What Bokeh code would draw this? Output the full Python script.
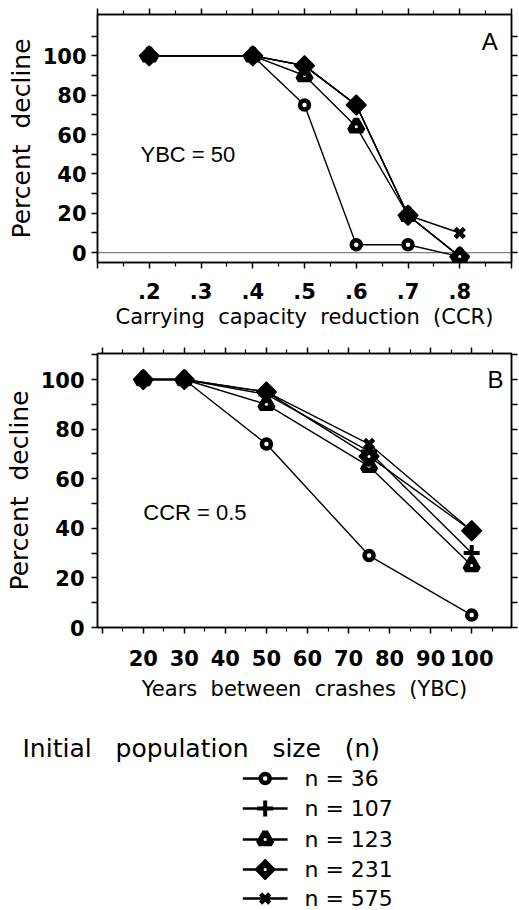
import math
from bokeh.plotting import figure
from bokeh.models import Range1d, LinearAxis, FixedTicker, Span, Label, Title
from bokeh.layouts import column
from bokeh.embed import file_html
from bokeh.resources import INLINE
from bokeh.core.properties import value

FONT = "Liberation Sans"
TFONT = "DejaVu Sans"
GAP = "\u00a0\u00a0 "

# ---------------- data ----------------
series_names = ["n = 36", "n = 107", "n = 123", "n = 231", "n = 575"]
legend_title = "Initial" + GAP + "population" + GAP + "size" + GAP + "(n)"

# Panel A: percent decline vs carrying capacity reduction (YBC = 50)
ccr = [0.2, 0.4, 0.5, 0.6, 0.7, 0.8]
a_n36 = [100, 100, 75, 4, 4, -2]
a_n107 = [100, 100, 95, 75, 19, -2]
a_n123 = [100, 100, 90, 64, 19, -2]
a_n231 = [100, 100, 95, 75, 19, -2]
a_n575 = [100, 100, 95, 75, 19, 10]

# Panel B: percent decline vs years between crashes (CCR = 0.5)
ybc = [20, 30, 50, 75, 100]
b_n36 = [100, 100, 74, 29, 5]
b_n107 = [100, 100, 94, 71, 30]
b_n123 = [100, 100, 90, 65, 25]
b_n231 = [100, 100, 95, 69, 39]
b_n575 = [100, 100, 95, 74, 39]

# tick labels
a_xticks = [0.1, 0.2, 0.3, 0.4, 0.5, 0.6, 0.7, 0.8, 0.9]
a_xlabels = ["", ".2", ".3", ".4", ".5", ".6", ".7", ".8", ""]
a_xminor = [0.15, 0.25, 0.35, 0.45, 0.55, 0.65, 0.75, 0.85]
b_xticks = [10, 20, 30, 40, 50, 60, 70, 80, 90, 100]
b_xlabels = ["", "20", "30", "40", "50", "60", "70", "80", "90", "100"]
b_xminor = [15, 25, 35, 45, 55, 65, 75, 85, 95, 105]
yticks = [0, 10, 20, 30, 40, 50, 60, 70, 80, 90, 100, 110]
ylabels = ["0", "", "20", "", "40", "", "60", "", "80", "", "100", ""]

a_series = [a_n36, a_n107, a_n123, a_n231, a_n575]
b_series = [b_n36, b_n107, b_n123, b_n231, b_n575]

# ---------------- styles ----------------
marker_styles = [
    dict(marker="circle", size=9, line_width=4.5, fill_color="white", angle=0),
    dict(marker="cross", size=16, line_width=4, fill_color="black", angle=0),
    dict(marker="triangle", size=13, line_width=6, fill_color="black", angle=0),
    dict(marker="square", size=14, line_width=1.5, fill_color="black", angle=math.pi / 4),
    dict(marker="x", size=13, line_width=4.5, fill_color="black", angle=0),
]
has_dot = [False, False, True, True, False]


def style_axis(ax, ticks, labels, minor, show, size="21px", standoff=6):
    ax.ticker = FixedTicker(ticks=ticks, minor_ticks=minor)
    ax.major_label_overrides = {t: l for t, l in zip(ticks, labels)}
    ax.axis_line_color = "black"
    ax.axis_line_width = 1.5
    ax.major_tick_line_color = "black"
    ax.major_tick_line_width = 1.5
    ax.minor_tick_line_color = "black"
    ax.minor_tick_line_width = 1.2
    ax.major_tick_in = 0
    ax.major_tick_out = 6
    ax.minor_tick_in = 0
    ax.minor_tick_out = 4
    ax.major_label_text_font = TFONT
    ax.major_label_text_font_style = "bold"
    ax.major_label_text_color = "black"
    if show:
        ax.major_label_text_font_size = size
        ax.major_label_standoff = standoff
    else:
        ax.major_label_text_font_size = "0px"
        ax.major_label_standoff = 0
    ax.axis_label_text_font = TFONT
    ax.axis_label_text_font_style = "normal"
    ax.axis_label_text_color = "black"


def make_panel(xs, series, xr, yr, height, borders, xt, xl, xm, xlabel,
               xl_standoff, xlab_standoff, yl_standoff, ylab_standoff):
    p = figure(width=519, height=height, x_range=Range1d(*xr), y_range=Range1d(*yr),
               output_backend="svg", toolbar_location=None,
               x_axis_location=None, y_axis_location=None,
               min_border_left=borders[0], min_border_right=borders[1],
               min_border_top=borders[2], min_border_bottom=borders[3])
    p.grid.visible = False
    p.outline_line_color = "black"
    p.outline_line_width = 1.5
    p.background_fill_color = "white"
    p.border_fill_color = "white"

    bottom = LinearAxis(axis_label=xlabel)
    style_axis(bottom, xt, xl, xm, True, standoff=xl_standoff)
    bottom.axis_label_text_font_size = "21px"
    bottom.axis_label_standoff = xlab_standoff
    p.add_layout(bottom, "below")

    top = LinearAxis()
    style_axis(top, xt, xl, xm, False)
    p.add_layout(top, "above")

    left = LinearAxis(axis_label="Percent\u00a0 decline")
    style_axis(left, yticks, ylabels, [], True, standoff=yl_standoff)
    left.axis_label_text_font_size = "25px"
    left.axis_label_standoff = ylab_standoff
    p.add_layout(left, "left")

    right = LinearAxis()
    style_axis(right, yticks, ylabels, [], False)
    p.add_layout(right, "right")

    for ys in series:
        p.line(xs, ys, line_color="black", line_width=1.4)
    for ys, st, dot in zip(series, marker_styles, has_dot):
        p.scatter(xs, ys, marker=st["marker"], size=st["size"], angle=st["angle"],
                  line_color="black", line_width=st["line_width"], fill_color=st["fill_color"])
        if dot:
            p.scatter(xs, ys, marker="circle", size=3, line_color=None, fill_color="white")
    return p


pA = make_panel(ccr, a_series, (0.1, 0.9), (-5, 121), 335, (97, 8, 14, 73),
                a_xticks, a_xlabels, a_xminor,
                "Carrying\u00a0 capacity\u00a0 reduction\u00a0 (CCR)", 14, 3, 5, 4)
pA.add_layout(Span(location=0, dimension="width", line_color="black",
                   line_width=1.2, line_dash="1 1"))
pA.add_layout(Label(x=0.858, y=107.5, text="A", text_font=FONT, text_font_size="24px",
                    text_color="black", text_align="center", text_baseline="middle"))
pA.add_layout(Label(x=0.183, y=50, text="YBC = 50", text_font=FONT, text_font_size="22px",
                    text_color="black", text_align="left", text_baseline="middle"))

pB = make_panel(ybc, b_series, (8.85, 109.7), (0, 110.5), 390, (97, 6, 18, 98),
                b_xticks, b_xlabels, b_xminor,
                "Years\u00a0 between\u00a0 crashes\u00a0 (YBC)", 16, 8, 7, 4)
pB.add_layout(Label(x=105.8, y=100, text="B", text_font=FONT, text_font_size="24px",
                    text_color="black", text_align="center", text_baseline="middle"))
pB.add_layout(Label(x=20, y=46.5, text="CCR = 0.5", text_font=FONT, text_font_size="22px",
                    text_color="black", text_align="left", text_baseline="middle"))

# ---------------- legend panel (frame aligned with panel B: data x = page x) ----------------
pL = figure(width=519, height=185, x_range=Range1d(97, 513), y_range=Range1d(185, 40),
            output_backend="svg", toolbar_location=None,
            x_axis_type=None, y_axis_type=None,
            min_border_left=97, min_border_right=6, min_border_top=40, min_border_bottom=0)
pL.grid.visible = False
pL.outline_line_color = None
pL.add_layout(Title(text=legend_title, align="left", offset=-75, standoff=6,
                    text_font=TFONT, text_font_size="25px", text_font_style="normal",
                    text_color="black"), "above")

leg_y = [53, 83, 114, 144, 173]
lx0, lx1, tx = 243, 288, 305
for yy, name, st, dot in zip(leg_y, series_names, marker_styles, has_dot):
    pL.line([lx0, lx1], [yy, yy], line_color="black", line_width=2.4)
    pL.scatter([(lx0 + lx1) / 2], [yy], marker=st["marker"], size=st["size"], angle=st["angle"],
               line_color="black", line_width=st["line_width"], fill_color=st["fill_color"])
    if dot:
        pL.scatter([(lx0 + lx1) / 2], [yy], marker="circle", size=3, line_color=None,
                   fill_color="white")
    pL.text(x=[tx], y=[yy], text=[name], text_font=value(TFONT), text_font_size="22px",
            text_align="left", text_baseline="middle", text_color="black")

layout = column(pA, pB, pL, spacing=0)
open("out.html", "w").write(file_html(layout, INLINE))
